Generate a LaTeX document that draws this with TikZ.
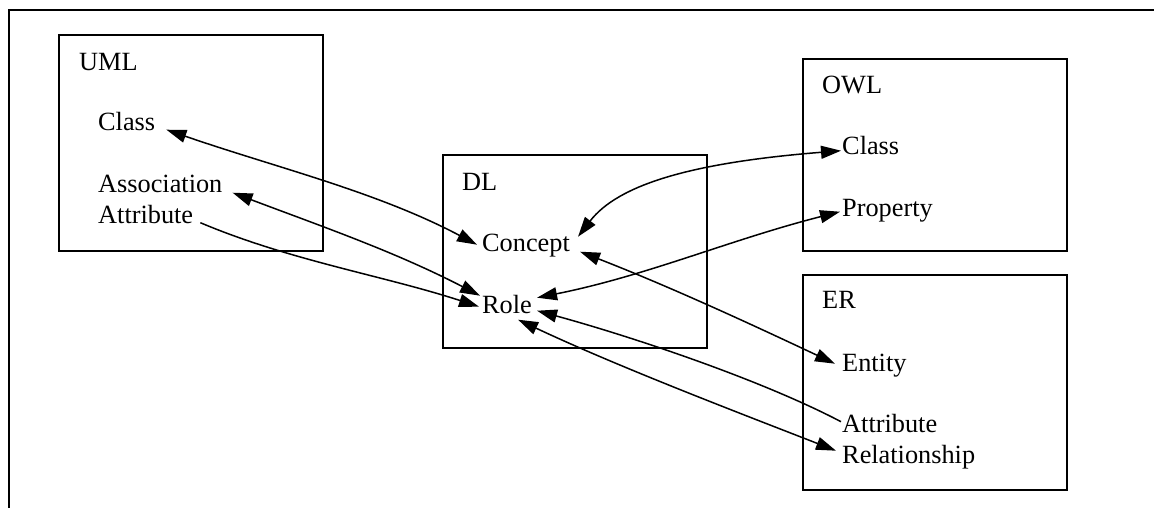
\documentclass[tikz,border=0pt]{standalone}
\usepackage{fontspec}
\setmainfont{Liberation Serif}
\usetikzlibrary{arrows.meta,calc}
\begin{document}
\begin{tikzpicture}[x=1pt,y=-1pt,
  lbl/.style={inner sep=0pt,anchor=base west,font=\fontsize{26.3}{30}\selectfont},
  box/.style={draw,line width=1.8pt,anchor=north west,inner sep=0pt},
  link/.style={line width=1.5pt,-{Triangle[length=20pt,width=13pt]}},
  both/.style={line width=1.5pt,{Triangle[length=20pt,width=13pt]}-{Triangle[length=20pt,width=13pt]}}]
\useasboundingbox (0,0) rectangle (1154,508);
% outer frame
\draw[line width=1.8pt] (9,508) -- (9,10) -- (1154,10);
% boxes
\node[box,minimum width=264pt,minimum height=216pt] (umlbox) at (58,34) {};
\node[box,minimum width=264pt,minimum height=193pt] (dlbox) at (442,154) {};
\node[box,minimum width=264pt,minimum height=192pt] (owlbox) at (802,58) {};
\node[box,minimum width=264pt,minimum height=215pt] (erbox) at (802,274) {};
% labels
\node[lbl] (umltitle) at (79,71) {UML};
\node[lbl] (umlclass) at (98,131) {Class};
\node[lbl] (assoc) at (98,192) {Association};
\node[lbl] (umlattr) at (98,223) {Attribute};
\node[lbl] (dltitle) at (462,190) {DL};
\node[lbl] (concept) at (482,251) {Concept};
\node[lbl] (role) at (482,313) {Role};
\node[lbl] (owltitle) at (822,94) {OWL};
\node[lbl] (owlclass) at (842,155) {Class};
\node[lbl] (property) at (842,216) {Property};
\node[lbl] (ertitle) at (822,308) {ER};
\node[lbl] (entity) at (842,371) {Entity};
\node[lbl] (erattr) at (842,432) {Attribute};
\node[lbl] (relship) at (842,463) {Relationship};
% connectors
\draw[both] ($(umlclass.mid east)+(11,1)$) .. controls +(110,38) and +(-100,-53) .. ($(concept.mid west)+(-5,-4)$);
\draw[both] ($(assoc.mid east)+(10,3)$) .. controls +(90,34) and +(-85,-44) .. ($(role.mid west)+(-2,-15)$);
\draw[link] ($(umlattr.mid east)+(7,2)$) .. controls +(90,38) and +(-95,-31) .. ($(role.mid west)+(-3,-4)$);
\draw[both] ($(concept.mid east)+(8,-12)$) .. controls +(40,-52) and +(-150,12) .. ($(owlclass.mid west)+(-1,-2)$);
\draw[both] ($(role.mid east)+(5,-13)$) .. controls +(110,-22) and +(-110,28) .. ($(property.mid west)+(-2,-2)$);
\draw[both] ($(concept.mid east)+(10,3)$) .. controls +(90,35) and +(-85,-40) .. ($(entity.mid west)+(-7,-5)$);
\draw[link] ($(erattr.mid west)+(-1,-8)$) .. controls +(-80,-42) and +(95,26) .. ($(role.mid east)+(5,0)$);
\draw[both] ($(role.mid east)+(-14,9)$) .. controls +(100,47) and +(-100,-39) .. ($(relship.mid west)+(-6,-10)$);
\end{tikzpicture}
\end{document}
